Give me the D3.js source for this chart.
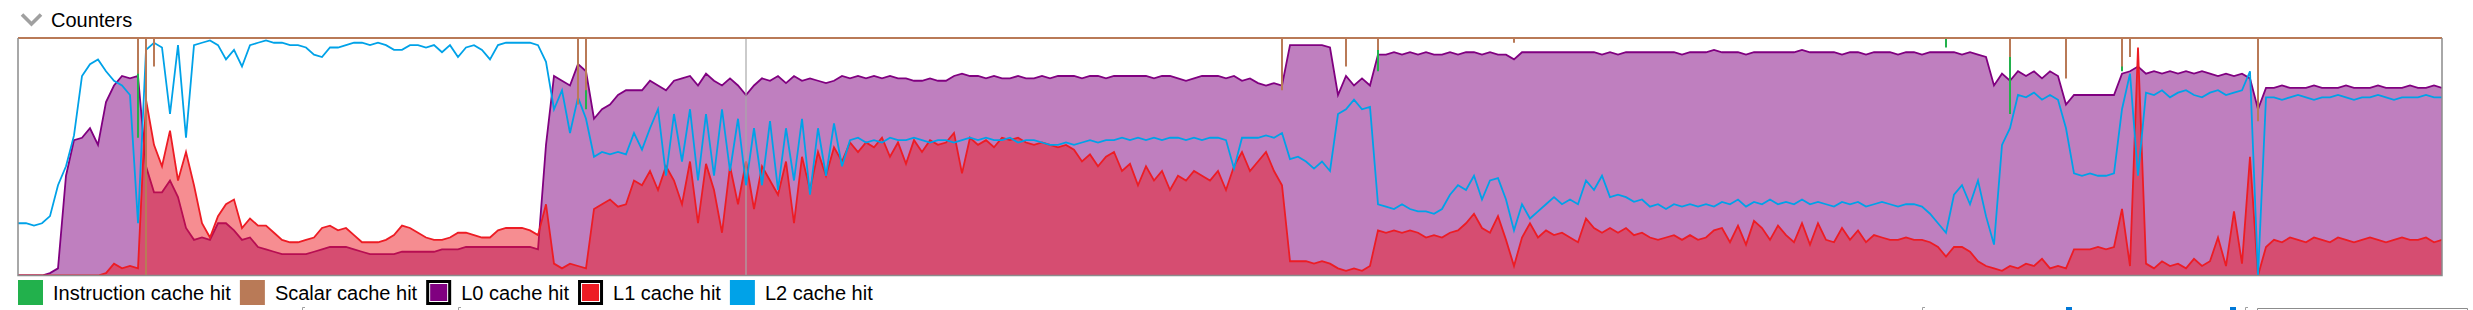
<!doctype html>
<html>
<head>
<meta charset="utf-8">
<style>
  body { margin: 0; background: #fff; }
  svg { display: block; font-family: "Liberation Sans", Arial, sans-serif; }
</style>
<script src="https://cdn.jsdelivr.net/npm/d3@7/dist/d3.min.js"></script>
</head>
<body>
<script>
// hit rate in percent, one value per sample
var instructionHit = [
  100,100,100,100,100,100,100,100,100,100,
  100,100,100,100,100,58,100,100,100,100,
  100,100,100,100,100,100,100,100,100,100,
  100,100,100,100,100,100,100,100,100,100,
  100,100,100,100,100,100,100,100,100,100,
  100,100,100,100,100,100,100,100,100,100,
  100,100,100,100,100,100,100,100,100,100,
  100,70,100,100,100,100,100,100,100,100,
  100,100,100,100,100,100,100,100,100,100,
  100,100,100,100,100,100,100,100,100,100,
  100,100,100,100,100,100,100,100,100,100,
  100,100,100,100,100,100,100,100,100,100,
  100,100,100,100,100,100,100,100,100,100,
  100,100,100,100,100,100,100,100,100,100,
  100,100,100,100,100,100,100,100,100,100,
  100,100,100,100,100,100,100,100,92,100,
  100,100,100,100,100,100,100,100,100,100,
  86,100,100,100,100,100,100,100,100,100,
  100,100,100,100,100,100,100,100,100,100,
  100,100,100,100,100,100,100,100,100,100,
  100,100,100,100,100,100,100,100,100,100,
  100,100,100,100,100,100,100,100,100,100,
  100,100,100,100,100,100,100,100,100,100,
  100,100,100,100,100,100,100,100,100,100,
  100,96,100,100,100,100,100,100,100,68,
  100,100,100,100,100,100,86,100,100,100,
  100,100,100,86,100,100,100,100,100,100,
  100,100,100,100,100,100,100,100,100,100,
  100,100,100,100,100,100,100,100,100,100,
  100,100,100,100,100,100,100,100,100,100,
  100,100,100,100
];
var scalarHit = [
  100,100,100,100,100,100,100,100,100,100,
  100,100,100,100,100,85,0,88,100,100,
  100,100,100,100,100,100,100,100,100,100,
  100,100,100,100,100,100,100,100,100,100,
  100,100,100,100,100,100,100,100,100,100,
  100,100,100,100,100,100,100,100,100,100,
  100,100,100,100,100,100,100,100,100,100,
  72,78,100,100,100,100,100,100,100,100,
  100,100,100,100,100,100,100,100,100,100,
  100,100,100,100,100,100,100,100,100,100,
  100,100,100,100,100,100,100,100,100,100,
  100,100,100,100,100,100,100,100,100,100,
  100,100,100,100,100,100,100,100,100,100,
  100,100,100,100,100,100,100,100,100,100,
  100,100,100,100,100,100,100,100,100,100,
  100,100,100,100,100,100,100,100,78,100,
  100,100,100,100,100,100,88,100,100,100,
  95,100,100,100,100,100,100,100,100,100,
  100,100,100,100,100,100,100,98,100,100,
  100,100,100,100,100,100,100,100,100,100,
  100,100,100,100,100,100,100,100,100,100,
  100,100,100,100,100,100,100,100,100,100,
  100,100,100,100,100,100,100,100,100,100,
  100,100,100,100,100,100,100,100,100,100,
  100,100,100,100,100,100,100,100,100,92,
  100,100,100,100,100,100,83,100,100,100,
  100,100,100,88,92,100,100,100,100,100,
  100,100,100,100,100,100,100,100,100,100,
  65,100,100,100,100,100,100,100,100,100,
  100,100,100,100,100,100,100,100,100,100,
  100,100,100,100
];
var l0Hit = [
  0,0,0,0,1,3,42,57,58,62,
  55,73,80,84,83,84,46,35,35,40,
  33,20,15,16,15,22,22,19,15,16,
  12,11,10,9,9,9,9,10,11,12,
  12,12,11,10,9,9,9,9,10,10,
  10,10,10,11,11,11,12,12,12,12,
  12,12,12,12,12,11,55,84,82,80,
  89,86,66,70,72,76,78,78,78,82,
  80,78,82,83,84,80,85,82,80,83,
  80,76,80,83,82,84,81,84,82,83,
  82,81,82,84,83,84,83,84,83,84,
  83,83,82,82,83,82,82,84,85,84,
  84,83,84,83,83,84,83,83,84,83,
  84,84,84,83,84,84,83,84,84,84,
  84,84,83,84,84,83,82,83,84,84,
  84,83,84,82,83,81,80,81,80,97,
  97,97,97,97,96,76,84,80,83,80,
  93,93,94,93,94,93,94,93,93,94,
  93,94,94,93,94,93,93,91,94,94,
  94,94,94,94,94,94,94,94,93,94,
  93,94,94,94,94,94,94,94,93,94,
  94,94,95,94,94,94,93,94,94,94,
  94,94,94,95,94,94,94,94,93,94,
  94,93,94,94,94,93,94,94,93,94,
  94,94,94,93,94,93,92,80,85,82,
  86,84,86,83,86,84,72,76,76,76,
  76,76,76,85,86,88,85,86,85,86,
  85,86,85,86,85,84,85,84,85,83,
  70,79,79,80,79,79,79,80,79,79,
  79,80,79,79,79,80,79,79,79,80,
  79,79,80,79
];
var l1Hit = [
  0,0,0,0,0,0,0,0,0,0,
  0,1,5,3,4,3,74,55,46,61,
  40,52,38,22,16,25,30,32,20,24,
  21,21,18,15,14,14,15,16,20,21,
  19,20,17,14,14,14,15,17,21,20,
  18,16,15,15,16,18,18,17,16,16,
  19,20,20,20,19,17,30,5,3,5,
  4,3,28,30,32,29,30,40,38,44,
  36,46,40,30,48,22,47,36,18,46,
  30,48,28,46,40,34,48,22,50,36,
  52,42,54,48,56,52,56,54,58,50,
  56,47,57,52,57,55,56,60,43,58,
  55,57,54,58,57,58,56,55,56,55,
  54,55,53,48,51,46,50,52,44,47,
  38,46,40,44,36,42,40,44,42,40,
  44,36,46,52,44,48,52,44,38,6,
  6,6,5,6,5,3,2,3,2,4,
  19,18,19,18,19,18,16,17,16,18,
  19,22,26,20,18,25,15,4,16,22,
  16,19,17,18,16,14,24,20,18,20,
  18,20,17,18,16,15,16,17,15,17,
  15,16,19,20,14,21,13,23,20,15,
  21,17,14,22,13,22,15,14,20,15,
  19,14,17,16,15,15,16,15,15,14,
  12,8,12,12,10,6,4,3,2,4,
  3,5,4,7,3,4,3,11,11,11,
  12,11,12,28,4,96,5,3,6,4,
  5,3,7,4,6,16,4,27,5,50,
  0,12,15,14,16,15,14,16,15,14,
  16,15,14,15,16,15,14,15,16,15,
  15,16,14,15
];
var l2Hit = [
  22,22,21,22,25,38,46,59,84,89,
  91,86,82,80,76,22,95,98,96,68,
  97,58,97,98,99,97,91,95,88,97,
  98,99,98,98,97,97,96,93,92,96,
  96,97,98,98,97,98,97,95,95,97,
  97,96,97,94,97,92,96,97,95,91,
  97,98,98,98,98,97,90,70,78,60,
  75,66,50,52,51,52,51,60,53,62,
  70,42,68,48,70,40,68,42,70,44,
  66,38,62,38,65,36,62,40,66,34,
  62,42,64,46,57,58,56,57,56,58,
  57,57,58,57,56,57,57,56,57,58,
  57,58,57,57,58,56,57,57,56,55,
  55,56,55,56,57,56,57,57,58,57,
  58,57,58,57,58,58,57,58,57,58,
  58,57,45,58,58,58,59,58,60,49,
  50,48,45,48,44,68,70,74,70,71,
  30,29,28,30,28,27,27,26,28,34,
  38,36,42,32,40,41,32,19,30,24,
  27,30,33,30,32,30,40,36,42,33,
  34,33,31,32,29,30,28,30,29,30,
  29,30,29,31,30,32,29,31,30,32,
  30,31,30,32,30,31,30,29,31,30,
  31,29,30,31,30,29,30,30,29,26,
  22,18,34,38,30,40,25,13,55,62,
  76,75,77,74,76,74,62,43,42,43,
  42,42,43,70,85,42,77,76,78,75,
  77,78,76,75,77,78,76,77,78,86,
  0,75,75,74,75,76,75,74,75,75,
  76,75,74,75,75,76,75,74,75,75,
  75,76,75,75
];
var legendLabels = ["Instruction cache hit", "Scalar cache hit", "L0 cache hit", "L1 cache hit", "L2 cache hit"];
var markerSample = 91; // grey cursor line

var svgW = 2473;
var svgH = 310;
var plot = { left: 18, right: 2442, top: 38, bottom: 275.5 };

var svg = d3.select("body").append("svg")
  .attr("width", svgW)
  .attr("height", svgH);

var series = [
  { name: legendLabels[0], values: instructionHit, color: "#22b14c" },
  { name: legendLabels[1], values: scalarHit, color: "#b97a57" },
  { name: legendLabels[2], values: l0Hit, color: "#800080", area: true, boxed: true },
  { name: legendLabels[3], values: l1Hit, color: "#ed1c24", area: true, boxed: true },
  { name: legendLabels[4], values: l2Hit, color: "#00a2e8" }
];

var x = d3.scaleLinear().domain([0, l0Hit.length - 1]).range([plot.left, plot.right]);
var y = d3.scaleLinear().domain([0, 100]).range([plot.bottom, plot.top]);

// header
svg.append("polyline")
  .attr("points", "22,14.5 31.5,24 41,14.5")
  .attr("fill", "none")
  .attr("stroke", "#a0a0a0")
  .attr("stroke-width", 3.6);
svg.append("text")
  .attr("x", 51).attr("y", 27)
  .attr("font-size", 20)
  .text("Counters");

svg.append("defs").append("clipPath").attr("id", "plotclip")
  .append("rect")
  .attr("x", plot.left).attr("y", plot.top - 3)
  .attr("width", plot.right - plot.left).attr("height", plot.bottom - plot.top + 3);

var g = svg.append("g").attr("clip-path", "url(#plotclip)");

var line = d3.line().x(function(d, i) { return x(i); }).y(function(d) { return y(d); });
var area = d3.area().x(function(d, i) { return x(i); }).y0(y(0)).y1(function(d) { return y(d); });

// L0 then L1 as filled areas
[series[2], series[3]].forEach(function(s) {
  g.append("path").datum(s.values)
    .attr("d", area)
    .attr("fill", s.color)
    .attr("fill-opacity", 0.5);
  g.append("path").datum(s.values)
    .attr("d", line)
    .attr("fill", "none")
    .attr("stroke", s.color)
    .attr("stroke-width", 1.8);
});

g.append("line")
  .attr("x1", x(markerSample)).attr("x2", x(markerSample))
  .attr("y1", plot.top).attr("y2", plot.bottom)
  .attr("stroke", "#a8a8a8").attr("stroke-width", 1.2);

g.append("path").datum(series[4].values)
  .attr("d", line)
  .attr("fill", "none")
  .attr("stroke", series[4].color)
  .attr("stroke-width", 1.8);

// instruction / scalar sit on 100% and only drop in short, thin spikes
[series[0], series[1]].forEach(function(s) {
  var sg = g.append("g").attr("stroke", s.color).attr("stroke-width", 2);
  sg.append("line")
    .attr("x1", x(0)).attr("x2", x(s.values.length - 1))
    .attr("y1", y(100)).attr("y2", y(100));
  sg.selectAll("line.drop")
    .data(s.values.map(function(v, i) { return { i: i, v: v }; }).filter(function(d) { return d.v < 100; }))
    .enter().append("line")
    .attr("class", "drop")
    .attr("x1", function(d) { return x(d.i); })
    .attr("x2", function(d) { return x(d.i); })
    .attr("y1", y(100))
    .attr("y2", function(d) { return y(d.v); });
});

// frame (top edge is hidden by the 100% lines)
svg.append("path")
  .attr("d", "M" + plot.left + "," + plot.top + "V" + plot.bottom + "H" + plot.right + "V" + plot.top)
  .attr("fill", "none")
  .attr("stroke", "#8c8c8c")
  .attr("stroke-width", 1.5);

// legend
var lx = 18;
series.forEach(function(s) {
  var item = svg.append("g");
  if (s.boxed) {
    item.append("rect").attr("x", lx).attr("y", 280).attr("width", 25).attr("height", 25).attr("fill", "#000");
    item.append("rect").attr("x", lx + 3).attr("y", 283).attr("width", 19).attr("height", 19).attr("fill", "#fff");
    item.append("rect").attr("x", lx + 4).attr("y", 284).attr("width", 17).attr("height", 17).attr("fill", s.color);
  } else {
    item.append("rect").attr("x", lx).attr("y", 280).attr("width", 25).attr("height", 25).attr("fill", s.color);
  }
  var t = item.append("text")
    .attr("x", lx + 35).attr("y", 300)
    .attr("font-size", 20)
    .text(s.name);
  lx = lx + 35 + t.node().getComputedTextLength() + 9;
});

// bits of the controls below, cut off by the window
var ui = svg.append("g").attr("fill", "none").attr("stroke", "#a0a0a0").attr("stroke-width", 1);
[302, 458, 1922, 2245].forEach(function(px) {
  ui.append("path").attr("d", "M" + (px + 3) + ",307.5H" + (px + 0.5) + "V310");
});
[2066, 2230].forEach(function(px) {
  svg.append("rect").attr("x", px).attr("y", 307).attr("width", 6).attr("height", 3).attr("fill", "#0078d7");
});
ui.append("path").attr("d", "M2257.5,310V308.5H2467.5V310").attr("stroke", "#8c8c8c");
</script>
</body>
</html>
